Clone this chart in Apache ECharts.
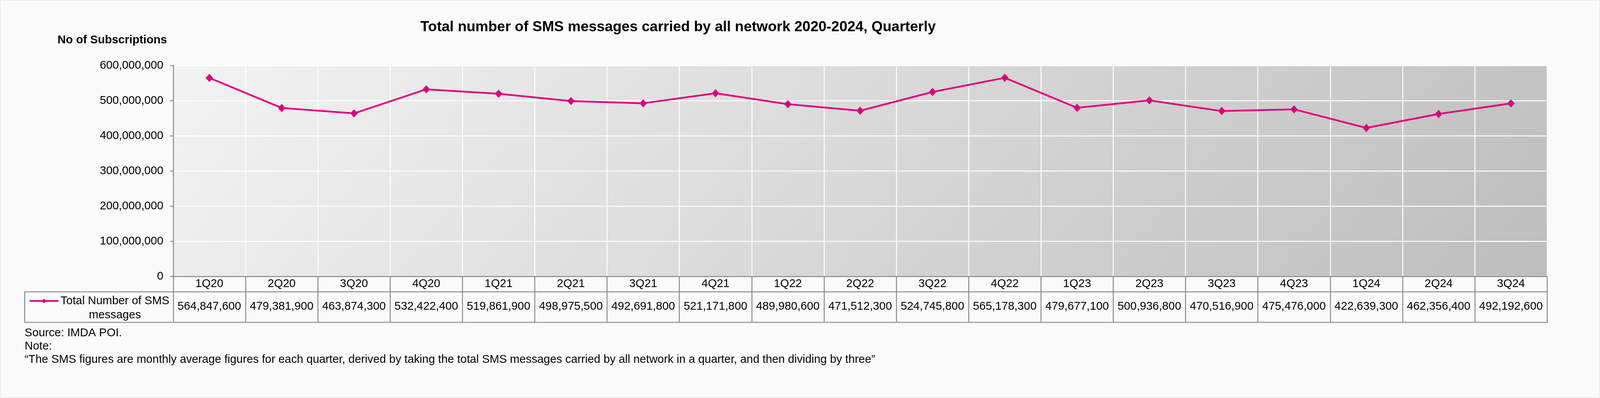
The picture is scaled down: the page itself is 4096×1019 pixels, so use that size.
<!DOCTYPE html>
<html><head><meta charset="utf-8">
<script src="https://cdn.jsdelivr.net/npm/echarts@6/dist/echarts.min.js"></script>
<style>html,body{margin:0;padding:0;background:#fafafa}#c{width:4096px;height:1019px}</style>
</head><body><div id="c"></div>
<script>
// ---- data ----
const categories = ['1Q20','2Q20','3Q20','4Q20','1Q21','2Q21','3Q21','4Q21','1Q22','2Q22','3Q22','4Q22','1Q23','2Q23','3Q23','4Q23','1Q24','2Q24','3Q24'];
const smsValues = [564847600,479381900,463874300,532422400,519861900,498975500,492691800,521171800,489980600,471512300,524745800,565178300,479677100,500936800,470516900,475476000,422639300,462356400,492192600];
const yTickLabels = ['0','100,000,000','200,000,000','300,000,000','400,000,000','500,000,000','600,000,000'];
const yMin = 0, yMax = 600000000, yInterval = 100000000;
const seriesName = 'Total Number of SMS messages';
const legendLines = ['Total Number of SMS','messages'];
const titleText = 'Total number of SMS messages carried by all network 2020-2024, Quarterly';
const yAxisName = 'No of Subscriptions';
const footnotes = ['Source: IMDA POI.','Note:','\u201CThe SMS figures are monthly average figures for each quarter, derived by taking the total SMS messages carried by all network in a quarter, and then dividing by three\u201D'];

// ---- layout (reference px * 0.799) ----
const W = 4096, H = 1019;
const FONT = "'Liberation Sans', Arial, sans-serif";
const FS = 29.3;
const gridL = 443.4, gridT = 167.8, gridR = 3960.6, gridB = 707.9;
const rowLine = 747.1, tableBottom = 825.4, tableLeft = 63.1;
const gray = '#858585', axisW = 2.4;
const lineColor = '#e4007c', markerColor = '#d4007a';

const fmt = v => v.toLocaleString('en-US');

const chart = echarts.init(document.getElementById('c'), null, {renderer:'canvas'});
const option = {
  animation: false,
  backgroundColor: '#fafafa',
  textStyle: {fontFamily: FONT, color: '#000'},
  title: {
    text: titleText, left: 1076, top: 51, padding: 0,
    textStyle: {fontFamily: FONT, fontSize: 37, fontWeight: 'bold', color: '#000', lineHeight: 37}
  },
  legend: {
    left: 73.5, top: 756, padding: 0,
    itemWidth: 74, itemHeight: 15,
    lineStyle: {width: 4.5},
    formatter: () => legendLines.map(s => '{t|' + s + '}').join('\n'),
    textStyle: {
      fontFamily: FONT, fontSize: FS, color: '#000', padding: [36, 0, 0, 0],
      rich: {t: {fontFamily: FONT, fontSize: FS, color: '#000', width: 279, align: 'center', lineHeight: 36}}
    },
    data: [seriesName]
  },
  grid: {
    left: gridL, top: gridT, right: W - gridR, bottom: H - gridB,
    show: true, borderWidth: 0,
    backgroundColor: new echarts.graphic.LinearGradient(gridL, gridT, 2794, 2123, [
      {offset: 0, color: '#f3f3f3'}, {offset: 1, color: '#bdbdbd'}
    ], true),
    containLabel: false
  },
  xAxis: [{
    type: 'category', data: categories, position: 'bottom', boundaryGap: true,
    axisLine: {show: true, lineStyle: {color: gray, width: axisW}},
    axisTick: {show: true, interval: 0, alignWithLabel: false, inside: false, length: tableBottom - gridB, lineStyle: {color: gray, width: axisW}},
    splitLine: {show: true, interval: 0, lineStyle: {color: '#ffffff', width: axisW}},
    axisLabel: {interval: 0, margin: 19.5, verticalAlign: 'middle', fontFamily: FONT, fontSize: FS, color: '#000'}
  }, {
    type: 'category', data: categories, position: 'bottom', boundaryGap: true,
    axisLine: {show: false}, axisTick: {show: false}, splitLine: {show: false},
    axisLabel: {interval: 0, margin: 77.5, verticalAlign: 'middle', fontFamily: FONT, fontSize: FS, color: '#000',
      formatter: (v, i) => fmt(smsValues[i])}
  }],
  yAxis: {
    type: 'value', min: yMin, max: yMax, interval: yInterval,
    name: yAxisName, nameLocation: 'end', nameGap: 65,
    nameTextStyle: {fontFamily: FONT, fontSize: 29.5, fontWeight: 'bold', color: '#000', align: 'right', verticalAlign: 'middle', padding: [0, 16, 0, 0]},
    axisLine: {show: true, lineStyle: {color: gray, width: axisW}},
    axisTick: {show: true, inside: false, length: 8, lineStyle: {color: gray, width: axisW}},
    splitLine: {show: true, lineStyle: {color: '#ffffff', width: axisW}},
    axisLabel: {margin: 25, fontFamily: FONT, fontSize: FS, color: '#000', formatter: (v, i) => yTickLabels[i]}
  },
  series: [{
    name: seriesName, type: 'line', data: smsValues, xAxisIndex: 0,
    symbol: 'diamond', symbolSize: [19, 21], showSymbol: true,
    lineStyle: {color: lineColor, width: 4.5},
    itemStyle: {color: markerColor},
    z: 5
  }],
  graphic: [
    {type: 'rect', silent: true, z: -10, shape: {x: 1, y: 1, width: W - 2, height: H - 2}, style: {fill: 'none', stroke: '#ececec', lineWidth: 2}},
    {type: 'line', silent: true, shape: {x1: tableLeft, y1: rowLine, x2: gridR, y2: rowLine}, style: {stroke: gray, lineWidth: axisW}},
    {type: 'line', silent: true, shape: {x1: tableLeft, y1: tableBottom, x2: gridR + axisW / 2, y2: tableBottom}, style: {stroke: gray, lineWidth: axisW}},
    {type: 'line', silent: true, shape: {x1: tableLeft, y1: rowLine, x2: tableLeft, y2: tableBottom}, style: {stroke: gray, lineWidth: axisW}},
    {type: 'text', silent: true, style: {x: tableLeft, y: 853.3, text: footnotes[0], font: FS + 'px ' + FONT, fill: '#000', verticalAlign: 'middle'}},
    {type: 'text', silent: true, style: {x: tableLeft, y: 886.9, text: footnotes[1], font: FS + 'px ' + FONT, fill: '#000', verticalAlign: 'middle'}},
    {type: 'text', silent: true, style: {x: tableLeft, y: 921.2, text: footnotes[2], font: FS + 'px ' + FONT, fill: '#000', verticalAlign: 'middle'}}
  ]
};
chart.setOption(option);
</script>
</body></html>
